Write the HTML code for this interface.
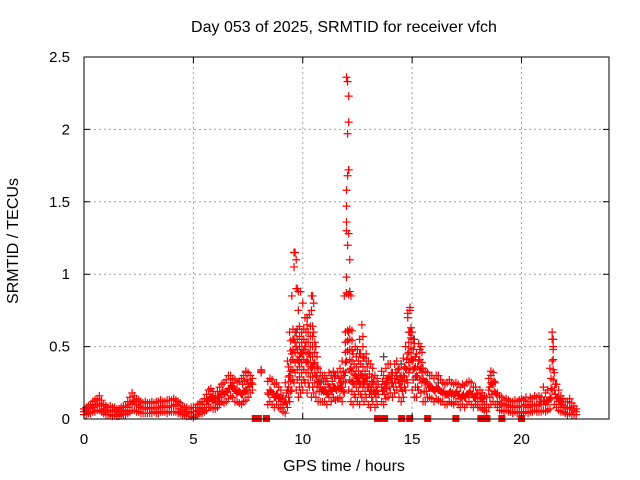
<!DOCTYPE html>
<html><head><meta charset="utf-8"><style>
body{margin:0;background:#fff;}
svg{display:block;font-family:"Liberation Sans",sans-serif;}
</style></head><body>
<svg id="chart" width="640" height="480">
<text x="344" y="32" font-size="16" text-anchor="middle">Day 053 of 2025, SRMTID for receiver vfch</text>
<g id="grid"></g>
<g id="marks"></g>
<rect x="84" y="57" width="525" height="362" fill="none" stroke="#000"/>
<g id="axes"></g>
<text x="344" y="471" font-size="16" text-anchor="middle">GPS time / hours</text>
<text x="18" y="241" font-size="16" text-anchor="middle" transform="rotate(-90 18 241)">SRMTID / TECUs</text>
</svg>
<script>
const xTicks=[0,5,10,15,20];
const yTicks=[0,0.5,1,1.5,2,2.5];
const yTickLabels=["0","0.5","1","1.5","2","2.5"];
// samples every 0.1 h starting at 0
const lowV=[.03,.03,.04,.04,.05,.05,.06,.06,.05,.04,
.03,.03,.03,.02,.03,.02,.02,.03,.03,.03,
.04,.05,.06,.06,.05,.05,.04,.04,.04,.04,
.04,.04,.05,.04,.04,.05,.05,.05,.04,.05,
.05,.05,.05,.04,.04,.03,.03,.02,.02,.02,
.01,.02,.03,.04,.04,.05,.06,.08,.08,.07,
.07,.08,.10,.12,.11,.12,.14,.16,.15,.12,
.12,.11,.10,.12,.13,.15,.18,.20,null,null,
null,.32,null,null,.10,.12,.10,.08,.10,.08,
.07,.05,.04,.08,.12,.20,.25,.20,.15,.18,
.20,.25,.18,.22,.15,.18,.15,.12,.12,.12,
.12,.10,.15,.12,.15,.13,.14,.15,.12,.18,
.40,.20,.12,.10,.15,.12,.10,.15,.12,.15,
.10,.08,.12,.08,.10,null,.12,.10,.14,.15,
.18,.15,.18,.20,.15,.12,.15,.20,.25,.35,
.20,.15,.15,.20,.18,.12,.12,.15,.15,.14,
.12,.14,.13,.12,.12,.10,.10,.12,.11,.10,
.12,.10,.08,.10,.08,.10,.12,.10,.08,.10,
.08,.08,.07,.06,.05,.08,.10,.12,.10,.08,
.06,.06,.05,.06,.05,.05,.04,.05,.04,.05,
.05,.04,.05,.04,.05,.05,.06,.05,.05,.05,
.06,.05,.06,.07,.20,.10,.08,.06,.05,.05,
.04,.03,.04,.03,.03,.03];
const midV=[.05,.06,.07,.07,.08,.09,.10,.11,.09,.07,
.06,.05,.06,.05,.06,.05,.04,.05,.06,.06,
.08,.10,.11,.12,.10,.09,.08,.07,.08,.07,
.07,.08,.08,.07,.08,.08,.09,.08,.08,.09,
.09,.09,.10,.09,.07,.06,.05,.05,.04,.05,
.05,.05,.06,.07,.07,.08,.10,.13,.15,.12,
.11,.13,.15,.18,.17,.19,.21,.25,.22,.20,
.18,.19,.17,.19,.20,.24,.25,.24,null,null,
null,.33,null,null,.18,.20,.18,.15,.17,.14,
.12,.10,.12,.20,.30,.45,.55,.50,.40,.45,
.45,.50,.40,.45,.35,.38,.30,.25,.22,.20,
.20,.18,.22,.20,.22,.21,.22,.25,.22,.30,
1.3,.60,.35,.25,.30,.28,.25,.30,.25,.28,
.22,.20,.25,.18,.20,null,.22,.20,.25,.28,
.28,.25,.28,.30,.25,.22,.30,.35,.45,.60,
.40,.35,.30,.40,.35,.28,.25,.25,.22,.22,
.20,.22,.20,.19,.18,.17,.17,.18,.17,.16,
.18,.16,.14,.16,.15,.17,.18,.17,.15,.15,
.12,.14,.12,.10,.10,.20,.25,.25,.18,.12,
.10,.11,.09,.10,.09,.08,.08,.09,.08,.09,
.09,.09,.10,.08,.10,.09,.10,.09,.10,.10,
.12,.10,.12,.15,.40,.20,.14,.12,.10,.09,
.08,.07,.08,.07,.06,.05];
const highV=[.07,.08,.09,.10,.12,.13,.14,.16,.13,.10,
.09,.08,.09,.08,.08,.07,.07,.08,.09,.09,
.12,.15,.18,.16,.14,.13,.12,.11,.12,.11,
.11,.12,.11,.12,.12,.13,.12,.12,.13,.13,
.13,.14,.13,.12,.11,.09,.08,.08,.07,.08,
.08,.08,.10,.11,.12,.14,.17,.20,.21,.19,
.16,.19,.22,.24,.25,.27,.30,.30,.28,.27,
.25,.26,.28,.30,.33,.32,.30,.28,null,null,
null,.34,null,null,.26,.28,.27,.24,.25,.22,
.20,.16,.25,.40,.60,.85,1.15,.90,.75,.88,
.80,.70,.65,.72,.85,.60,.50,.35,.32,.30,
.30,.28,.32,.30,.33,.30,.32,.35,.40,.85,
2.36,1.72,.85,.45,.50,.48,.55,.65,.42,.45,
.40,.38,.35,.30,.28,null,.33,.30,.35,.38,
.38,.32,.38,.40,.35,.30,.42,.50,.70,.77,
.60,.52,.45,.52,.50,.35,.33,.32,.30,.30,
.28,.30,.30,.27,.25,.24,.25,.27,.25,.24,
.25,.24,.22,.24,.23,.25,.26,.25,.22,.22,
.18,.20,.18,.16,.15,.28,.33,.32,.25,.18,
.16,.15,.13,.14,.13,.12,.12,.13,.12,.13,
.14,.13,.15,.12,.15,.14,.16,.15,.16,.15,
.22,.18,.20,.35,.60,.32,.24,.20,.16,.14,
.12,.12,.14,.11,.09,.07];
const peakT=[12.05,12.1,12.1,12.05,12.1,12.05,12.0,12.0,12.0,12.1,12.05,12.15,12.0,12.0,12.1,9.65,9.7,9.6,9.75,9.8,10.45,10.5,10.4,10.2,14.8,14.9,21.4,21.45];
const peakV=[2.33,2.23,2.05,1.97,1.72,1.68,1.58,1.47,1.36,1.28,1.2,1.1,0.98,0.87,0.86,1.15,1.1,1.05,0.9,0.88,0.85,0.8,0.75,0.7,0.73,0.75,0.55,0.5];
const zeroT=[7.83,7.97,8.34,13.42,13.74,14.52,14.89,15.71,17.0,18.14,18.42,19.1,20.0];
const greyT=[7.4,9.7,10.2,10.8,12.15,12.6,12.9,13.7,14.5,15.1,16.2,18.6];
const greyV=[0.32,0.6,0.7,0.25,0.88,0.45,0.4,0.43,0.38,0.55,0.25,0.3];
const X0=84,X1=609,Y0=419,Y1=57,XMAX=24,YMAX=2.5,STEP=0.1,FILLCAP=0.7;
const xs=v=>X0+(X1-X0)*v/XMAX, ys=v=>Y0-(Y0-Y1)*v/YMAX;
const NS="http://www.w3.org/2000/svg";
function mk(tag,attrs,parent){const e=document.createElementNS(NS,tag);for(const k in attrs)e.setAttribute(k,attrs[k]);parent.appendChild(e);return e;}
const grid=document.getElementById('grid'),axes=document.getElementById('axes'),marks=document.getElementById('marks');
xTicks.forEach(t=>{const x=xs(t);
 if(t>0){const g=mk('line',{x1:x,x2:x,y1:Y1,y2:Y0,stroke:'#a0a0a0','stroke-dasharray':'2,3'},grid);}
 const tk=mk('path',{d:`M${x},${Y0}v-6M${x},${Y1}v6`,stroke:'#000'},axes);
 const l=mk('text',{x:x,y:444,'font-size':15,'text-anchor':'middle'},axes);l.textContent=t;});
yTicks.forEach((t,i)=>{const y=ys(t);
 if(t>0&&t<YMAX){const g=mk('line',{x1:X0,x2:X1,y1:y,y2:y,stroke:'#a0a0a0','stroke-dasharray':'2,3'},grid);}
 const tk=mk('path',{d:`M${X0},${y}h6M${X1},${y}h-6`,stroke:'#000'},axes);
 const l=mk('text',{x:70,y:y+5,'font-size':15,'text-anchor':'end'},axes);l.textContent=yTickLabels[i];});
function plus(t,v,c,name){const x=xs(t),y=ys(v);const p=mk('path',{d:`M${x-4},${y}h8M${x},${y-4}v8`,stroke:c,'stroke-width':1.2},marks);}
greyT.forEach((t,i)=>plus(t,greyV[i],'#404040','grey-point'));
[lowV,midV,highV].forEach(arr=>arr.forEach((v,i)=>{if(v!==null)plus(i*STEP,v,'#f00','red-point');}));
// fill the scatter band between low and high for each sample column (dense part only)
lowV.forEach((lo,i)=>{const hi=highV[i];if(lo===null||hi===null)return;
 const top=Math.min(hi,FILLCAP);
 for(let v=lo+0.07;v<top-0.03;v+=0.07)plus(i*STEP+0.05,v,'#f00','red-point');});
peakT.forEach((t,i)=>plus(t,peakV[i],'#f00','red-point'));
zeroT.forEach(t=>{const r=mk('rect',{x:xs(t)-3.5,y:Y0-4,width:7,height:7,fill:'#f00'},marks);});
</script>
</body></html>
